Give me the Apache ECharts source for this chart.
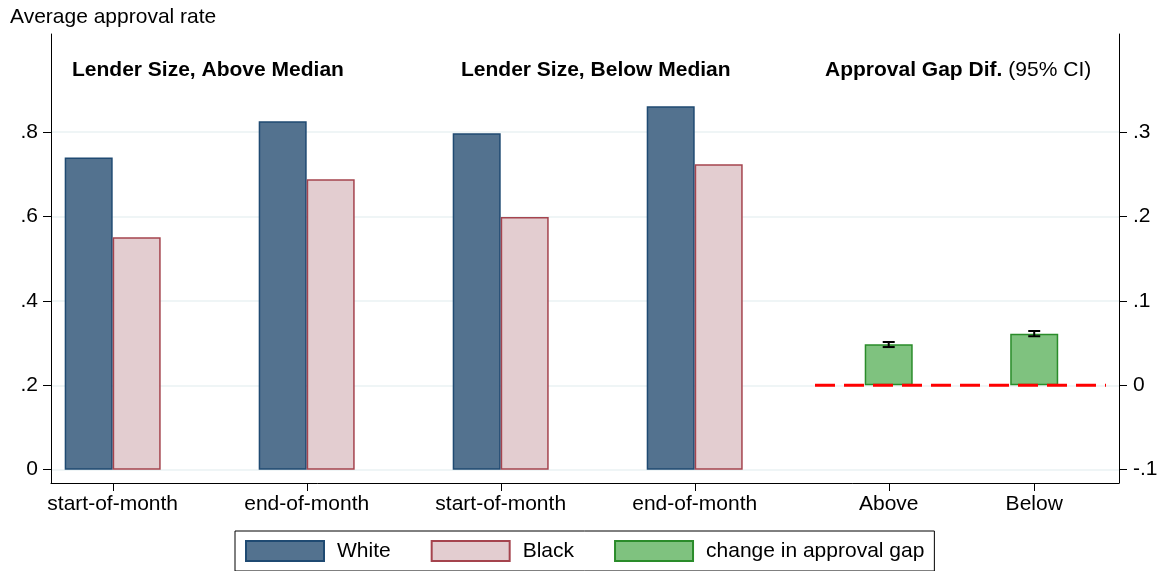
<!DOCTYPE html>
<html>
<head>
<meta charset="utf-8">
<script src="https://cdn.jsdelivr.net/npm/echarts@6/dist/echarts.min.js"></script>
<style>
html, body { margin: 0; padding: 0; background: #fff; }
#chart { width: 1163px; height: 571px; }
</style>
</head>
<body>
<div id="chart"></div>
<script>
// positions of the groups along the x axis
const groupPos = [1, 2, 3, 4];
const groupLabels = ['start-of-month', 'end-of-month', 'start-of-month', 'end-of-month'];
const gapPos = [5, 5.75];
const gapLabels = ['Above', 'Below'];

// approval rates (left axis)
const white = [0.740, 0.826, 0.797, 0.861];
const black = [0.551, 0.688, 0.599, 0.724];

// change in approval gap + 95% CI (right axis)
const gapChange = [0.0486, 0.0611];
const gapLow = [0.0453, 0.0581];
const gapHigh = [0.0513, 0.0643];

const leftTicks = [0, 0.2, 0.4, 0.6, 0.8];
const rightTicks = [-0.1, 0, 0.1, 0.2, 0.3];
const zeroLineX = [4.62, 6.12];

const xTicks = groupPos.concat(gapPos);
const xLabels = groupLabels.concat(gapLabels);

const FONT = '"Liberation Sans", Arial, Helvetica, sans-serif';
const Y_MIN = -0.0316;

// stata style: .8 instead of 0.8
function fmtNum(v) {
  let s = String(Math.round(v * 10) / 10);
  return s.replace(/^(-?)0\./, '$1.');
}

const chart = echarts.init(document.getElementById('chart'));

const xCommon = {
  type: 'value',
  min: 0.682,
  max: 6.187
};

const titles = [
  { type: 'text', x: 10, y: 17, style: { text: 'Average approval rate', font: '21px ' + FONT, fill: '#000', textVerticalAlign: 'middle' } },
  { type: 'text', x: 72, y: 70, style: { text: 'Lender Size, Above Median', font: 'bold 21px ' + FONT, fill: '#000', textVerticalAlign: 'middle' } },
  { type: 'text', x: 461, y: 70, style: { text: 'Lender Size, Below Median', font: 'bold 21px ' + FONT, fill: '#000', textVerticalAlign: 'middle' } },
  {
    type: 'text', x: 825, y: 70,
    style: {
      text: '{b|Approval Gap Dif.}{n|(95% CI)}',
      textVerticalAlign: 'middle',
      rich: {
        b: { fontWeight: 'bold', fontSize: 21, fontFamily: FONT, fill: '#000' },
        n: { fontSize: 21, fontFamily: FONT, fill: '#000', padding: [0, 0, 0, 6] }
      }
    }
  }
];

chart.setOption({
  animation: false,
  textStyle: { fontFamily: FONT },
  grid: { left: 51, right: 44, top: 34, bottom: 88 },
  xAxis: [
    Object.assign({}, xCommon, {
      axisLine: { show: true, onZero: false, lineStyle: { color: '#000', width: 1 } },
      axisTick: { show: false },
      axisLabel: {
        customValues: xTicks,
        margin: 11,
        fontSize: 21,
        color: '#000',
        fontFamily: FONT,
        formatter: v => {
          const i = xTicks.findIndex(t => Math.abs(t - v) < 1e-6);
          return i >= 0 ? xLabels[i] : '';
        }
      },
      splitLine: { show: false }
    }),
    Object.assign({}, xCommon, { show: false })
  ],
  yAxis: [
    {
      type: 'value',
      min: Y_MIN,
      max: 1.0325,
      axisLine: { show: true, lineStyle: { color: '#000', width: 1 } },
      axisTick: { show: true, length: 8, customValues: leftTicks, lineStyle: { color: '#000' } },
      axisLabel: { customValues: leftTicks, margin: 13, fontSize: 21, color: '#000', fontFamily: FONT, formatter: fmtNum },
      splitLine: { show: true, lineStyle: { color: '#eaf2f3', width: 1.5 } }
    },
    {
      type: 'value',
      min: -0.1158,
      max: 0.41625,
      position: 'right',
      axisLine: { show: true, lineStyle: { color: '#000', width: 1 } },
      axisTick: { show: true, length: 8, customValues: rightTicks, lineStyle: { color: '#000' } },
      axisLabel: { customValues: rightTicks, margin: 14, fontSize: 21, color: '#000', fontFamily: FONT, formatter: fmtNum },
      splitLine: { show: false }
    }
  ],
  legend: {
    left: 235,
    top: 531,
    padding: [9, 10],
    icon: 'rect',
    itemWidth: 78,
    itemHeight: 20,
    itemGap: 40,
    borderColor: '#000',
    borderWidth: 1,
    data: ['White', 'Black', 'change in approval gap'],
    textStyle: { fontSize: 21, color: '#000', fontFamily: FONT, padding: [0, 0, 0, 8] }
  },
  graphic: titles,
  series: [
    {
      name: 'White',
      type: 'bar',
      xAxisIndex: 0,
      yAxisIndex: 0,
      barWidth: 48,
      barGap: '0%',
      data: groupPos.map((x, i) => [x, white[i]]),
      itemStyle: { color: '#53728f', borderColor: '#1f4a72', borderWidth: 1.5 }
    },
    {
      name: 'Black',
      type: 'bar',
      xAxisIndex: 0,
      yAxisIndex: 0,
      barWidth: 48,
      barGap: '0%',
      data: groupPos.map((x, i) => [x, black[i]]),
      itemStyle: { color: '#e3cdd0', borderColor: '#a5444e', borderWidth: 1.5 }
    },
    {
      name: 'change in approval gap',
      type: 'bar',
      xAxisIndex: 1,
      yAxisIndex: 1,
      barWidth: 48,
      data: gapPos.map((x, i) => [x, gapChange[i]]),
      itemStyle: { color: '#7fc27f', borderColor: '#2a8c2a', borderWidth: 1.5 }
    },
    {
      name: 'ci',
      type: 'custom',
      xAxisIndex: 1,
      yAxisIndex: 1,
      z: 5,
      data: gapPos.map((x, i) => [x, gapLow[i], gapHigh[i]]),
      encode: { x: 0, y: [1, 2] },
      renderItem: function (params, api) {
        const lo = api.coord([api.value(0), api.value(1)]);
        const hi = api.coord([api.value(0), api.value(2)]);
        const w = 6;
        const st = { stroke: '#000', lineWidth: 2 };
        return {
          type: 'group',
          children: [
            { type: 'line', shape: { x1: lo[0], y1: lo[1], x2: hi[0], y2: hi[1] }, style: st },
            { type: 'line', shape: { x1: lo[0] - w, y1: lo[1], x2: lo[0] + w, y2: lo[1] }, style: st },
            { type: 'line', shape: { x1: hi[0] - w, y1: hi[1], x2: hi[0] + w, y2: hi[1] }, style: st }
          ]
        };
      }
    },
    {
      name: 'zero',
      type: 'line',
      xAxisIndex: 1,
      yAxisIndex: 1,
      z: 6,
      symbol: 'none',
      data: zeroLineX.map(x => [x, 0]),
      lineStyle: { color: '#ff0000', width: 3, type: [20, 9] }
    }
  ]
});

// x-axis tick marks, placed through the axis scale
const tickEls = xTicks.map(v => {
  const p = chart.convertToPixel({ xAxisIndex: 0, yAxisIndex: 0 }, [v, Y_MIN]);
  const x = Math.round(p[0]) + 0.5;
  return {
    type: 'line',
    z: 100,
    shape: { x1: x, y1: p[1], x2: x, y2: p[1] + 8 },
    style: { stroke: '#000', lineWidth: 1 }
  };
});
chart.setOption({ graphic: titles.concat(tickEls) });
</script>
</body>
</html>
